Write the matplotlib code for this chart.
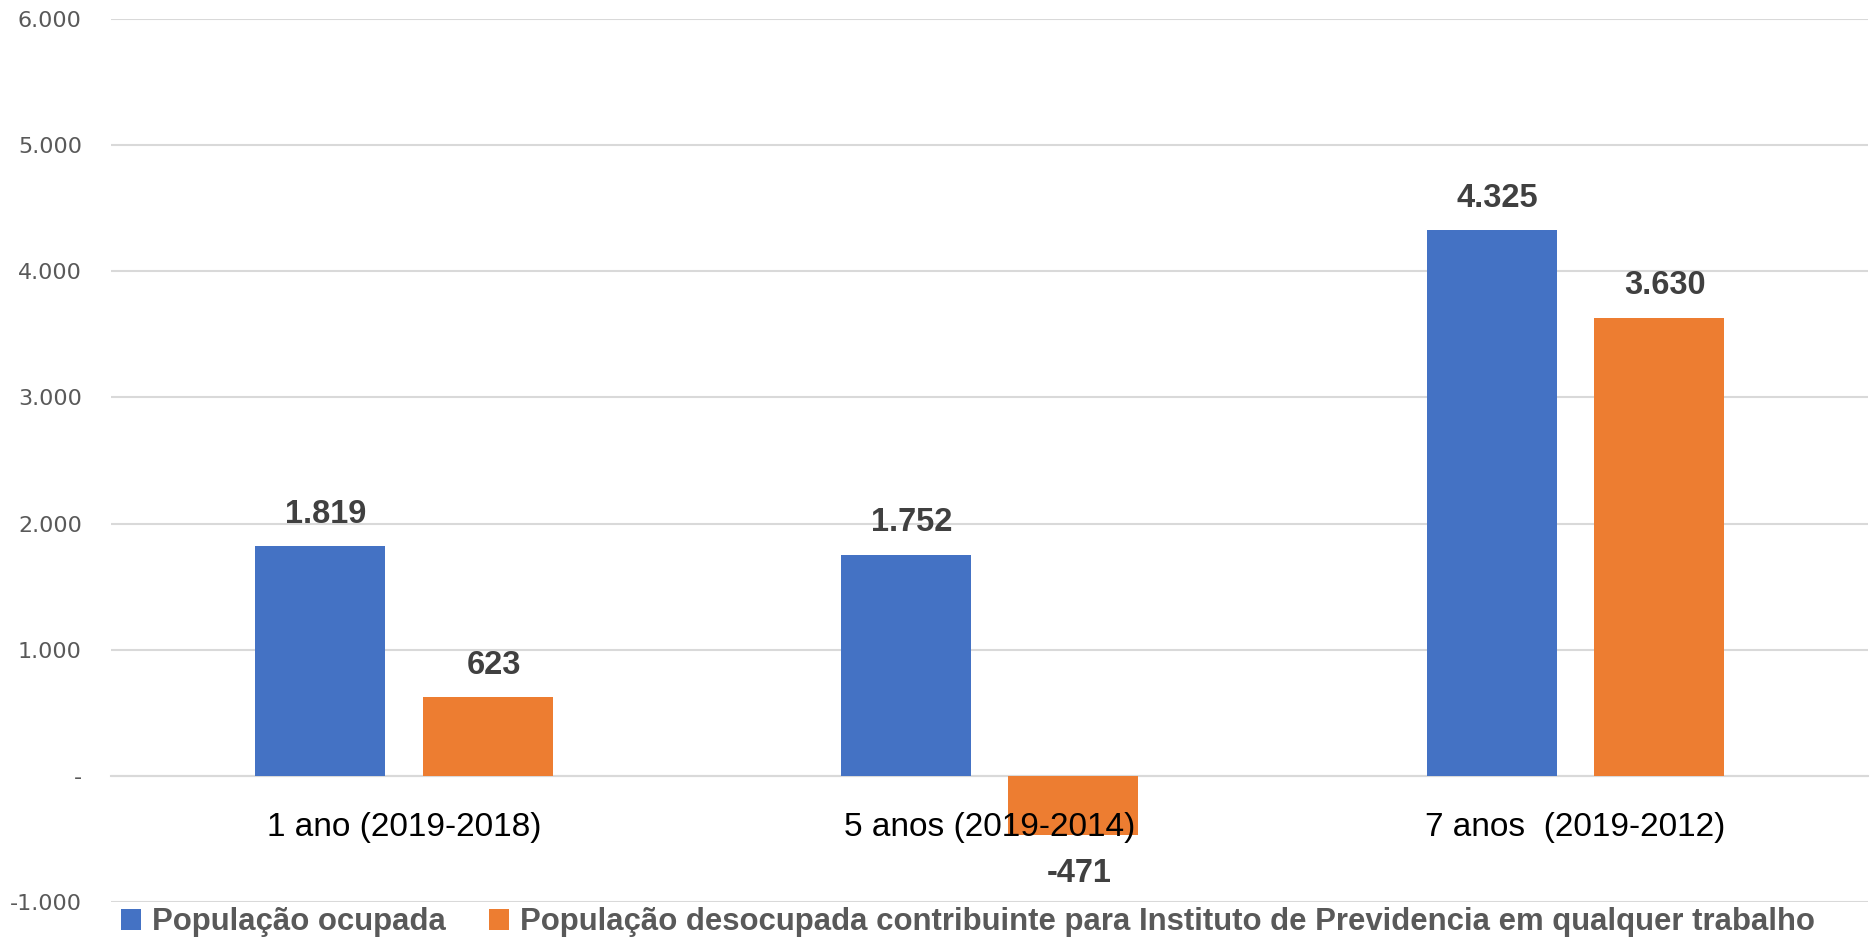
import numpy as np
import matplotlib.pyplot as plt
from matplotlib.ticker import FuncFormatter

# data
categories = ['1 ano (2019-2018)', '5 anos (2019-2014)', '7 anos  (2019-2012)']
ocupada = [1819, 1752, 4325]
desocupada = [623, -471, 3630]
series_names = ['População ocupada',
                'População desocupada contribuinte para Instituto de Previdencia em qualquer trabalho']
colors = ['#4472C4', '#ED7D31']
yticks = np.arange(-1000, 6001, 1000)


def fmt_pt(v, _pos=None):
    ''' thousands with dot, zero as dash '''
    if v == 0:
        return '-'
    return f'{v:,.0f}'.replace(',', '.')


fig = plt.figure(figsize=(18.72, 9.42), dpi=100)
ax = fig.add_axes([0.0593, 0.0425, 0.9387, 0.9373])

# gridlines drawn by hand so the category labels can sit on top of the bars
for t in yticks:
    ax.axhline(t, color='#d9d9d9', linewidth=1.5, zorder=0)

x = np.arange(len(categories))
w = 0.222
off = 0.143
bars1 = ax.bar(x - off, ocupada, w, color=colors[0], label=series_names[0], zorder=1)
bars2 = ax.bar(x + off, desocupada, w, color=colors[1], label=series_names[1], zorder=1)

for bars in (bars1, bars2):
    for b in bars:
        v = b.get_height()
        dy = 32 if v >= 0 else -38
        ax.annotate(fmt_pt(v), (b.get_x() + b.get_width() / 2 + 0.01, v),
                    xytext=(0, dy), textcoords='offset pixels',
                    ha='center', va='center', fontsize=23.5, fontweight='bold',
                    color='#404040', family='Liberation Sans')

ax.set_xlim(-0.5, 2.5)
ax.set_ylim(-1000, 6000)
ax.set_yticks(yticks)
ax.yaxis.set_major_formatter(FuncFormatter(fmt_pt))
ax.set_axisbelow(False)

for s in ['top', 'right', 'left']:
    ax.spines[s].set_visible(False)
ax.spines['bottom'].set_position(('data', 0))
ax.spines['bottom'].set_color('#d9d9d9')
ax.spines['bottom'].set_linewidth(1.5)
ax.spines['bottom'].set_zorder(0)

ax.set_xticks(x)
ax.set_xticklabels(categories, fontsize=24, family='Liberation Sans', color='black')
ax.tick_params(axis='x', length=0, pad=26)
ax.tick_params(axis='y', length=0, pad=21, labelsize=16, labelcolor='#595959')

fig.legend(loc='center', bbox_to_anchor=(0.517, 0.021), ncol=2, frameon=False,
           prop={'family': 'Liberation Sans', 'weight': 'bold', 'size': 22.4},
           handlelength=0.65, handleheight=0.65, handletextpad=0.35, columnspacing=1.4,
           labelcolor='#595959')

fig.savefig('out.png', dpi=100)
